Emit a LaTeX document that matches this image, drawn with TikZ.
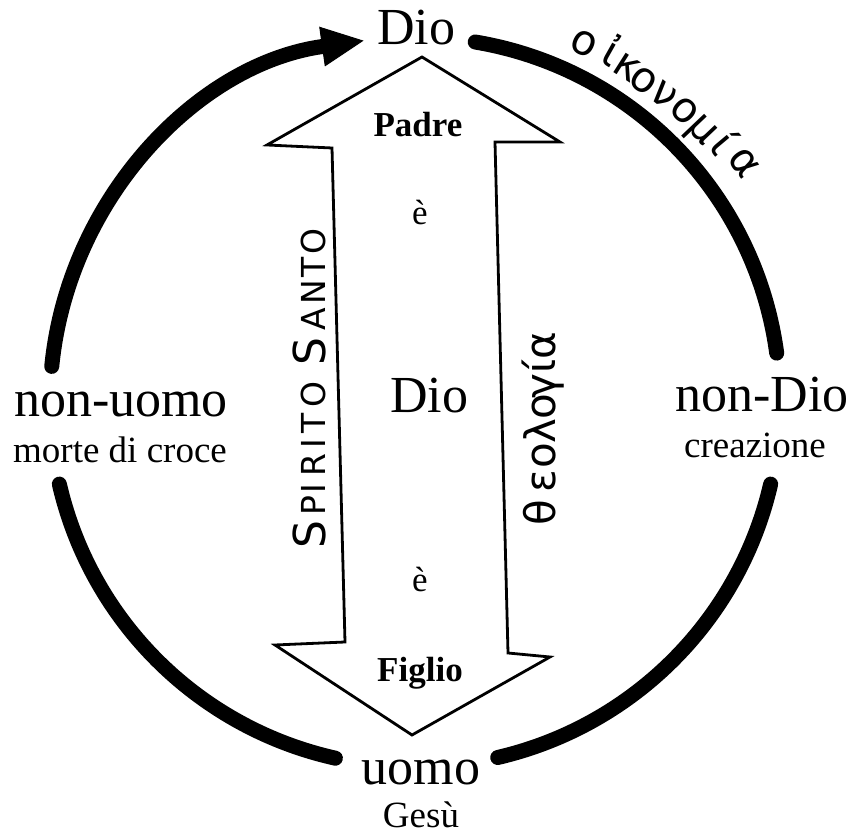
\documentclass[tikz,border=0pt]{standalone}
\usepackage{fontspec}
\setmainfont{Liberation Serif}
\newfontfamily\hand{DejaVu Sans}
\usetikzlibrary{arrows.meta,calc}
\begin{document}
\begin{tikzpicture}[x=1pt,y=1pt,
  big/.style={font=\fontsize{52}{56}\selectfont, inner sep=0pt, anchor=base},
  sub/.style={font=\fontsize{37}{40}\selectfont, inner sep=0pt, anchor=base},
  mid/.style={font=\fontsize{35}{38}\selectfont, inner sep=0pt, anchor=base},
  inner/.style={font=\fontsize{35}{38}\selectfont\bfseries, inner sep=0pt, anchor=base},
  ring/.style={line width=15pt, line cap=round},
  block/.style={line width=2.8pt, line join=miter},
  greek/.style={font=\hand\fontsize{42}{46}\selectfont, inner sep=0pt, anchor=base},
  caps/.style={font=\hand\fontsize{33}{36}\selectfont, inner sep=0pt, anchor=base, rotate=90},
  capsbig/.style={font=\hand\fontsize{44}{48}\selectfont, inner sep=0pt, anchor=base, rotate=90},
]
\useasboundingbox (0,0) rectangle (855,836);
\coordinate (O) at (415,434);

% labels
\node[big] (dio) at (416,791) {Dio};
\node[big] (uomo) at (421,51) {uomo};
\node[sub] (gesu) at (421,8) {Gesù};
\node[big] (nonuomo) at (121,419) {non-uomo};
\node[sub] (morte) at (120,373) {morte di croce};
\node[big] (nondio) at (762,424) {non-Dio};
\node[sub] (creaz) at (755,378) {creazione};

% block double arrow
\draw[block] (422,779) -- (560,694) -- (495,694) -- (508,183) -- (550,179)
  -- (412,101) -- (275,191) -- (345,194) -- (332,688) -- (267,691) -- cycle;

\node[inner] (padre) at (418,699) {Padre};
\node[mid] (e1) at (420,611) {è};
\node[big] (diomid) at (429,423) {Dio};
\node[mid] (e2) at (420,244) {è};
\node[inner] (figlio) at (420,154) {Figlio};

% ring arcs
\coordinate (a1) at ($(O)+(174.4:365)$);
\coordinate (a2) at ($(O)+(80.5:365)$);
\coordinate (a3) at ($(O)+(-13:365)$);
\coordinate (a4) at ($(O)+(193:365)$);
\draw[ring, -{Triangle[length=42pt,width=40pt,line width=1pt]}] (a1) arc[start angle=174.4, end angle=98.1, radius=365];
\draw[ring] (a2) arc[start angle=80.5, end angle=7.7, radius=365];
\draw[ring] (a3) arc[start angle=-13, end angle=-76.9, radius=365];
\draw[ring] (a4) arc[start angle=193, end angle=257.4, radius=365];

% oikonomia along the arc
\foreach \l/\a/\r [count=\i] in {ο/64.8/385, ἰ/60.6/387, κ/57.6/385, ο/54.6/383, ν/51.0/384, ο/47.2/385, μ/43.5/385, ί/40.0/388, α/36.0/395}
  \node[greek, rotate=\a-90] (oik\i) at ($(O)+(\a:\r)$) {\l};

% theologia, vertical
\foreach \l/\y [count=\i] in {θ/323, ε/355, ο/380, λ/405, ο/429, γ/450, ί/470, α/490}
  \node[greek, rotate=90] (theo\i) at (555,\y) {\l};

% Spirito Santo, vertical
\node[capsbig] (ss1) at (325,301) {S};
\foreach \l/\y [count=\i] in {P/330, I/347, R/371, I/392, T/413, O/441}
  \node[caps] (sp\i) at (325,\y) {\l};
\node[capsbig] (ss2) at (325,484) {S};
\foreach \l/\y [count=\i] in {A/517, N/544, T/569, O/594}
  \node[caps] (sa\i) at (325,\y) {\l};
\end{tikzpicture}
\end{document}
